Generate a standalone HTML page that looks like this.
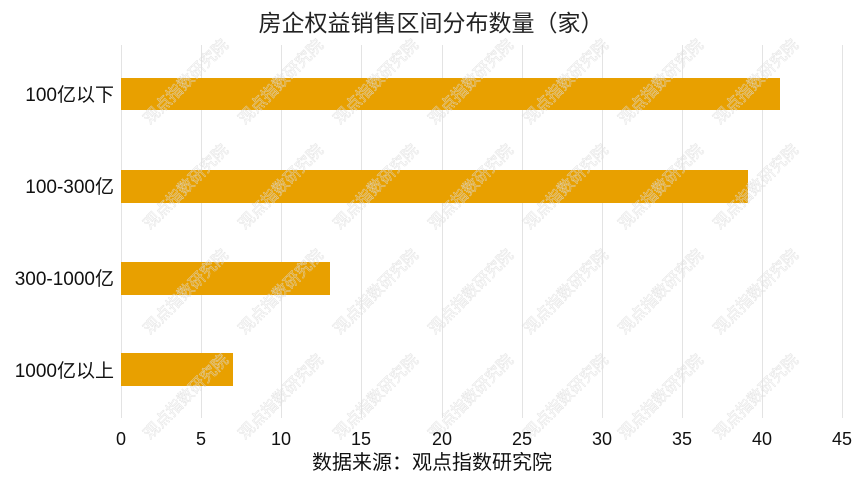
<!DOCTYPE html>
<html><head><meta charset="utf-8"><style>
body{margin:0;background:#fff;}
svg text{font-family:"Liberation Sans","Noto Sans CJK SC",sans-serif;}
</style></head><body>
<svg width="865" height="487" xmlns="http://www.w3.org/2000/svg">
<rect width="865" height="487" fill="#fff"/>
<g stroke="#e3e3e3" stroke-width="1">
<line x1="121.5" y1="45" x2="121.5" y2="418"/>
<line x1="201.5" y1="45" x2="201.5" y2="418"/>
<line x1="281.5" y1="45" x2="281.5" y2="418"/>
<line x1="361.5" y1="45" x2="361.5" y2="418"/>
<line x1="442.5" y1="45" x2="442.5" y2="418"/>
<line x1="522.5" y1="45" x2="522.5" y2="418"/>
<line x1="602.5" y1="45" x2="602.5" y2="418"/>
<line x1="682.5" y1="45" x2="682.5" y2="418"/>
<line x1="762.5" y1="45" x2="762.5" y2="418"/>
<line x1="842.5" y1="45" x2="842.5" y2="418"/>
</g>
<g fill="#E8A000">
<rect x="121" y="78" width="659" height="32"/>
<rect x="121" y="170" width="627" height="33"/>
<rect x="121" y="262" width="209" height="33"/>
<rect x="121" y="353" width="112" height="33"/>
</g>
<g font-size="16" fill="none" stroke="#dcdcdc" stroke-width="0.5" opacity="0.8">
<text transform="translate(150,125) rotate(-45)">观点指数研究院</text>
<text transform="translate(245,125) rotate(-45)">观点指数研究院</text>
<text transform="translate(340,125) rotate(-45)">观点指数研究院</text>
<text transform="translate(435,125) rotate(-45)">观点指数研究院</text>
<text transform="translate(530,125) rotate(-45)">观点指数研究院</text>
<text transform="translate(625,125) rotate(-45)">观点指数研究院</text>
<text transform="translate(720,125) rotate(-45)">观点指数研究院</text>
<text transform="translate(150,230) rotate(-45)">观点指数研究院</text>
<text transform="translate(245,230) rotate(-45)">观点指数研究院</text>
<text transform="translate(340,230) rotate(-45)">观点指数研究院</text>
<text transform="translate(435,230) rotate(-45)">观点指数研究院</text>
<text transform="translate(530,230) rotate(-45)">观点指数研究院</text>
<text transform="translate(625,230) rotate(-45)">观点指数研究院</text>
<text transform="translate(720,230) rotate(-45)">观点指数研究院</text>
<text transform="translate(150,335) rotate(-45)">观点指数研究院</text>
<text transform="translate(245,335) rotate(-45)">观点指数研究院</text>
<text transform="translate(340,335) rotate(-45)">观点指数研究院</text>
<text transform="translate(435,335) rotate(-45)">观点指数研究院</text>
<text transform="translate(530,335) rotate(-45)">观点指数研究院</text>
<text transform="translate(625,335) rotate(-45)">观点指数研究院</text>
<text transform="translate(720,335) rotate(-45)">观点指数研究院</text>
<text transform="translate(150,440) rotate(-45)">观点指数研究院</text>
<text transform="translate(245,440) rotate(-45)">观点指数研究院</text>
<text transform="translate(340,440) rotate(-45)">观点指数研究院</text>
<text transform="translate(435,440) rotate(-45)">观点指数研究院</text>
<text transform="translate(530,440) rotate(-45)">观点指数研究院</text>
<text transform="translate(625,440) rotate(-45)">观点指数研究院</text>
<text transform="translate(720,440) rotate(-45)">观点指数研究院</text>
</g>
<text x="431" y="31" font-size="23" text-anchor="middle" fill="#222">房企权益销售区间分布数量（家）</text>
<g font-size="19" fill="#111" text-anchor="end">
<text x="114" y="101">100亿以下</text>
<text x="114" y="193">100-300亿</text>
<text x="114" y="285">300-1000亿</text>
<text x="114" y="377">1000亿以上</text>
</g>
<g font-size="18" fill="#111" text-anchor="middle">
<text x="121" y="445">0</text>
<text x="201" y="445">5</text>
<text x="281" y="445">10</text>
<text x="361" y="445">15</text>
<text x="442" y="445">20</text>
<text x="522" y="445">25</text>
<text x="602" y="445">30</text>
<text x="682" y="445">35</text>
<text x="762" y="445">40</text>
<text x="842" y="445">45</text>
</g>
<text x="432" y="469" font-size="20" text-anchor="middle" fill="#111">数据来源：观点指数研究院</text>
</svg>
</body></html>
